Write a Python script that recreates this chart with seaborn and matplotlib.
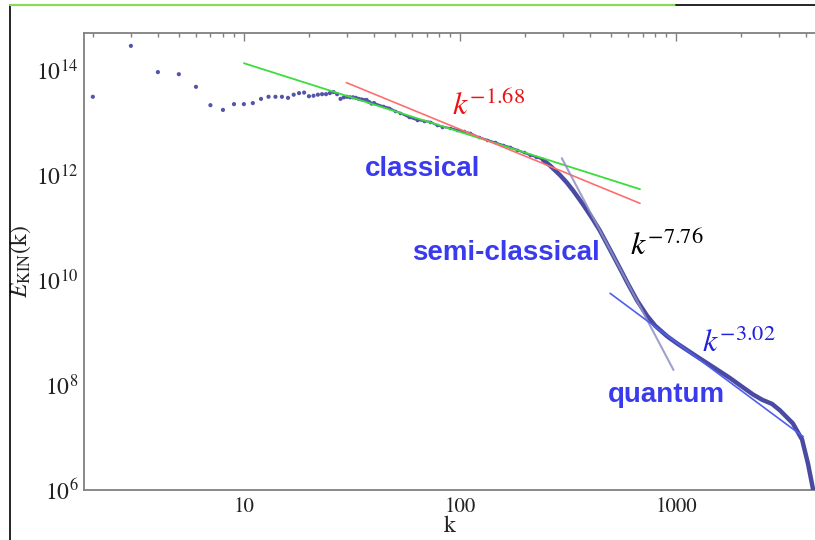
import matplotlib
matplotlib.use("Agg")
import matplotlib.pyplot as plt
from matplotlib.lines import Line2D
from matplotlib.ticker import FixedLocator, FuncFormatter, NullFormatter
import numpy as np
import pandas as pd
import seaborn as sns

# ---------------- data ----------------
# sparse low-k points (k, log10 E)
k_sparse = [2, 3, 4, 5, 6, 7, 8, 9, 10, 11, 12, 13, 14, 15, 16, 17, 18, 19, 20,
            21, 22, 23, 24, 25, 26, 27, 28, 29, 30, 31, 32, 33, 34, 35, 36, 37,
            38, 39, 40]
logE_sparse = [13.49, 14.46, 13.96, 13.92, 13.68, 13.33, 13.24, 13.35, 13.35,
               13.37, 13.45, 13.49, 13.49, 13.49, 13.47, 13.53, 13.56, 13.57,
               13.50, 13.51, 13.53, 13.54, 13.54, 13.56, 13.58, 13.54, 13.45,
               13.48, 13.49, 13.48, 13.48, 13.47, 13.45, 13.44, 13.43, 13.43,
               13.39, 13.36, 13.37]

# dense part of the spectrum, thin dotted stretch (k, log10 E)
k_mid = [40, 44, 47, 50, 53, 58, 63, 68, 73, 78, 83, 90, 97, 104, 111, 122,
         133, 145, 158, 170, 183, 197, 211, 226, 242]
logE_mid = [13.37, 13.31, 13.28, 13.22, 13.18, 13.10, 13.05, 13.03, 13.01,
            12.95, 12.92, 12.89, 12.86, 12.83, 12.80, 12.72, 12.67, 12.62,
            12.57, 12.53, 12.48, 12.43, 12.38, 12.34, 12.29]

# dense part of the spectrum, thick stretch (k, log10 E)
k_tail = [242, 261, 290, 313, 333, 371, 413, 444, 511, 568, 593, 660, 734,
          800, 908, 1012, 1250, 1500, 1780, 2000, 2270, 2500, 2780, 3020,
          3470, 3830, 4080, 4310, 4500]
logE_tail = [12.29, 12.18, 12.00, 11.85, 11.71, 11.44, 11.15, 10.94, 10.47,
             10.11, 9.96, 9.61, 9.32, 9.13, 8.93, 8.79, 8.54, 8.33, 8.13,
             7.98, 7.82, 7.72, 7.64, 7.52, 7.27, 6.96, 6.50, 6.00, 5.40]

# fitted power laws, end points (k, log10 E)
fit_green_k = [10, 681]
fit_green_logE = [14.13, 11.73]
fit_red_k = [29.8, 681]
fit_red_logE = [13.76, 11.46]
fit_gray_k = [296, 973]
fit_gray_logE = [12.32, 8.286]
fit_blue_k = [495, 3880]
fit_blue_logE = [9.747, 7.015]

labels_regime = ["classical", "semi-classical", "quantum"]
labels_slope = [r"$k^{-1.68}$", r"$k^{-7.76}$", r"$k^{-3.02}$"]
x_major = [10, 100, 1000]
y_major_exp = [6, 8, 10, 12, 14]

# ---------------- figure ----------------
sns.set_style("white")
plt.rcParams["mathtext.fontset"] = "stix"
plt.rcParams["font.family"] = ["DejaVu Sans"]

W, H = 815, 540
fig = plt.figure(figsize=(W / 100, H / 100), dpi=100)
L, R, T, B = 84, 815, 33, 490
ax = fig.add_axes([L / W, (H - B) / H, (R - L) / W, (B - T) / H])


def df(k, le):
    return pd.DataFrame({"k": np.asarray(k, float),
                         "E": 10.0 ** np.asarray(le, float)})


dot_col = "#5454a8"
sns.scatterplot(data=df(k_sparse, logE_sparse), x="k", y="E", ax=ax,
                s=9, color=dot_col, edgecolor="none", zorder=3)
sns.lineplot(data=df(k_mid, logE_mid), x="k", y="E", ax=ax, color=dot_col,
             lw=1.6, marker="o", markersize=2.6, markeredgewidth=0,
             zorder=3, sort=False)
sns.lineplot(data=df(k_tail, logE_tail), x="k", y="E", ax=ax,
             color="#4a4aa2", lw=3.2, zorder=3, sort=False,
             solid_joinstyle="round", solid_capstyle="round")

sns.lineplot(data=df(fit_green_k, fit_green_logE), x="k", y="E", ax=ax,
             color="#3ddc3d", lw=1.3, zorder=4)
sns.lineplot(data=df(fit_red_k, fit_red_logE), x="k", y="E", ax=ax,
             color="#ff6e6e", lw=1.2, zorder=4)
sns.lineplot(data=df(fit_gray_k, fit_gray_logE), x="k", y="E", ax=ax,
             color="#8f8fc4", lw=1.5, zorder=4, alpha=0.85)
sns.lineplot(data=df(fit_blue_k, fit_blue_logE), x="k", y="E", ax=ax,
             color="#4f5ff0", lw=1.2, zorder=4)

ax.set_xscale("log")
ax.set_yscale("log")
ax.set_xlim(1.82, 4395)
ax.set_ylim(1e6, 10 ** 14.705)

# ticks (Mathematica style, inward)
ax.xaxis.set_major_locator(FixedLocator(x_major))
ax.xaxis.set_minor_locator(FixedLocator(
    [m * 10 ** e for e in range(0, 4) for m in range(2, 10)]))
ax.xaxis.set_major_formatter(FuncFormatter(lambda v, p: f"{int(round(v))}"))
ax.xaxis.set_minor_formatter(NullFormatter())
ax.yaxis.set_major_locator(FixedLocator([10.0 ** e for e in y_major_exp]))
ax.yaxis.set_minor_locator(FixedLocator(
    [m * 10.0 ** (e - 1) for e in y_major_exp for m in range(1, 10)]))
ax.yaxis.set_major_formatter(
    FuncFormatter(lambda v, p: r"$10^{%d}$" % int(round(np.log10(v)))))
ax.yaxis.set_minor_formatter(NullFormatter())

spine_col = "#808080"
ax.tick_params(which="both", direction="in", top=True, right=False,
               color=spine_col, width=1.0)
ax.tick_params(which="major", length=6)
ax.tick_params(which="minor", length=3)
ax.tick_params(axis="x", which="major", labelsize=15, pad=5,
               labelcolor="#222222")
ax.tick_params(axis="y", which="major", labelsize=17, pad=4,
               labelcolor="#222222")
for lab in ax.get_xticklabels():
    lab.set_fontfamily("STIXGeneral")
for s in ["left", "bottom", "top"]:
    ax.spines[s].set_color(spine_col)
    ax.spines[s].set_linewidth(1.3)
ax.spines["right"].set_visible(False)

ax.set_xlabel("k", fontsize=17, fontfamily="STIXGeneral", labelpad=-1,
              color="#222222")
ax.set_ylabel(r"$E_{\mathrm{KIN}}(\mathrm{k})$", fontsize=17,
              color="#222222")
ax.yaxis.set_label_coords(-0.07, 0.5)


def px(xp, yp):
    return ((xp - L) / (R - L), (B - yp) / (B - T))


lab_col = "#3a3aee"
for txt, (xp, yp) in zip(labels_regime, [(365, 176), (412, 260), (608, 402)]):
    ax.text(*px(xp, yp), txt, transform=ax.transAxes, ha="left",
            va="baseline", fontsize=20, fontweight="bold",
            fontfamily="Liberation Sans", color=lab_col, zorder=6)

for txt, (xp, yp), c in zip(labels_slope,
                            [(452, 115), (630, 255), (702, 352)],
                            ["#ee1111", "#000000", "#2020dd"]):
    ax.text(*px(xp, yp), txt, transform=ax.transAxes, ha="left",
            va="baseline", fontsize=23, color=c, zorder=6)

# screenshot frame lines
fig.add_artist(Line2D([10 / W, 10 / W], [0, 1 - 5 / H], color="black",
                      lw=1.2, transform=fig.transFigure))
fig.add_artist(Line2D([10 / W, 676 / W], [1 - 5 / H, 1 - 5 / H],
                      color="#8ada5a", lw=1.6, transform=fig.transFigure))
fig.add_artist(Line2D([676 / W, 1], [1 - 5 / H, 1 - 5 / H], color="black",
                      lw=1.2, transform=fig.transFigure))

fig.savefig("out.png", dpi=100)
